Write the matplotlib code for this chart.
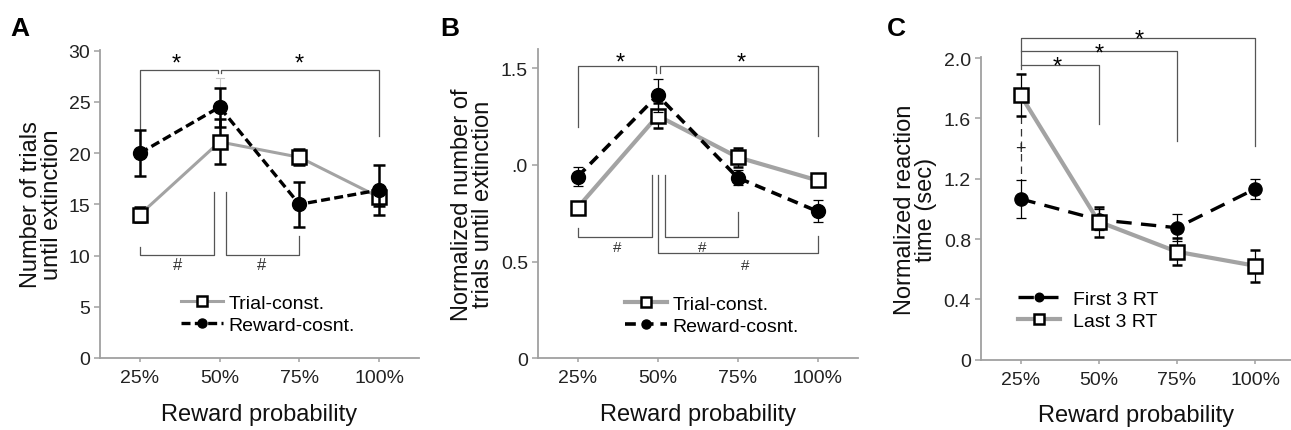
import numpy as np
import matplotlib
matplotlib.use('Agg')
import matplotlib.pyplot as plt

plt.rcParams['font.family'] = ['Liberation Sans', 'DejaVu Sans']

# ---- data ----
x_labels = ['25%', '50%', '75%', '100%']
x = np.arange(len(x_labels))

# A: number of trials until extinction
a_trial = [14.0, 21.1, 19.6, 15.7]
a_trial_err = [0.7, 2.2, 0.8, 0.9]
a_reward = [20.0, 24.5, 15.0, 16.4]
a_reward_err = [2.25, 1.9, 2.2, 2.4]

# B: normalized number of trials until extinction
b_trial = [0.78, 1.255, 1.04, 0.92]
b_trial_err = [0.015, 0.065, 0.05, 0.02]
b_reward = [0.94, 1.36, 0.934, 0.76]
b_reward_err = [0.05, 0.085, 0.04, 0.057]

# C: normalized reaction time
c_first = [1.066, 0.928, 0.875, 1.132]
c_first_err = [0.125, 0.07, 0.09, 0.064]
c_last = [1.755, 0.915, 0.716, 0.623]
c_last_err = [0.14, 0.1, 0.09, 0.105]

GRAY = '#a3a3a3'
AX_GRAY = '#a0a0a0'
BR = '#555555'

fig = plt.figure(figsize=(12.91, 4.31), dpi=100)


def style_axes(ax, xlim, ylim, yticks, yticklabels, ylabel, lpad):
    ax.set_xlim(*xlim)
    ax.set_ylim(*ylim)
    ax.set_xticks(x)
    ax.set_xticklabels(x_labels, fontsize=14)
    ax.set_yticks(yticks)
    ax.set_yticklabels(yticklabels, fontsize=14)
    for s in ['top', 'right']:
        ax.spines[s].set_visible(False)
    for s in ['left', 'bottom']:
        ax.spines[s].set_color(AX_GRAY)
        ax.spines[s].set_linewidth(1.3)
    ax.tick_params(axis='y', colors=AX_GRAY, labelcolor='#222222', length=4, width=1.1, pad=3)
    ax.tick_params(axis='x', colors=AX_GRAY, labelcolor='#222222', length=3, width=1.1, pad=5)
    ax.set_xlabel('Reward probability', fontsize=17, labelpad=12, color='#111111')
    ax.set_ylabel(ylabel, fontsize=17, labelpad=lpad, color='#111111', linespacing=0.95)


def bracket(ax, pts, lw=0.9):
    xs, ys = zip(*pts)
    ax.plot(xs, ys, color=BR, lw=lw, clip_on=False, zorder=1)


def legend(ax, handles, anchor, textpad=0.3):
    ax.legend([h.lines[0] for h in handles], [h.get_label() for h in handles],
              loc='upper left', bbox_to_anchor=anchor,
              frameon=False, fontsize=14, handlelength=2.15, handletextpad=textpad,
              labelspacing=0.2, markerscale=0.65, borderaxespad=0)


#%% A
ax = fig.add_axes([100 / 1291, 72 / 431, 319 / 1291, 308.3 / 431])
h1 = ax.errorbar(x, a_trial, yerr=a_trial_err, color=GRAY, lw=2.2, marker='s', ms=10.5,
                 mfc='white', mec='black', mew=1.8, ecolor='black', elinewidth=1.8,
                 capsize=4, capthick=1.8, label='Trial-const.', zorder=3)
h2 = ax.errorbar(x, a_reward, yerr=a_reward_err, color='black', lw=2.4, dashes=(2.7, 1.3),
                 marker='o', ms=10, ecolor='black', elinewidth=1.8, capsize=4, capthick=1.8,
                 label='Reward-cosnt.', zorder=4)
ax.plot([1.0, 1.0], [24.5, 27.3], color='#cccccc', lw=0.8, zorder=2)
ax.plot([0.95, 1.05], [27.3, 27.3], color='#cccccc', lw=0.8, zorder=2)
bracket(ax, [(0, 21.9), (0, 28.1), (0.985, 28.1), (0.985, 27.8)])
bracket(ax, [(1.015, 27.8), (1.015, 28.1), (3.0, 28.1), (3.0, 21.7)])
ax.text(0.46, 27.7, '*', fontsize=17, ha='center', va='bottom')
ax.text(2.0, 27.7, '*', fontsize=17, ha='center', va='bottom')
bracket(ax, [(0, 10.8), (0, 10.1), (0.925, 10.1), (0.925, 16.25)])
bracket(ax, [(1.08, 16.25), (1.08, 10.1), (2.0, 10.1), (2.0, 11.9)])
ax.text(0.47, 9.9, '#', fontsize=12, ha='center', va='top', color='#333333')
ax.text(1.53, 9.9, '#', fontsize=12, ha='center', va='top', color='#333333')
style_axes(ax, (-0.5, 3.5), (0, 30.1), [0, 5, 10, 15, 20, 25, 30],
           ['0', '5', '10', '15', '20', '25', '30'],
           'Number of trials\nuntil extinction', 4)
legend(ax, [h1, h2], (0.23, 0.231))

#%% B
ax = fig.add_axes([537.7 / 1291, 71.7 / 431, 320 / 1291, 309.3 / 431])
h1 = ax.errorbar(x, b_trial, yerr=b_trial_err, color=GRAY, lw=3, marker='s', ms=10,
                 mfc='white', mec='black', mew=1.8, ecolor='black', elinewidth=0.9,
                 capsize=3.5, capthick=0.9, label='Trial-const.', zorder=3)
h2 = ax.errorbar(x, b_reward, yerr=b_reward_err, color='black', lw=2.6, dashes=(3.0, 1.9),
                 marker='o', ms=10, ecolor='black', elinewidth=0.9, capsize=3.5, capthick=0.9,
                 label='Reward-cosnt.', zorder=4)
bracket(ax, [(0, 1.198), (0, 1.51), (0.983, 1.51), (0.983, 1.478)])
bracket(ax, [(1.025, 1.478), (1.025, 1.51), (3.0, 1.51), (3.0, 1.148)])
ax.text(0.53, 1.475, '*', fontsize=17, ha='center', va='bottom')
ax.text(2.05, 1.475, '*', fontsize=17, ha='center', va='bottom')
bracket(ax, [(0, 0.672), (0, 0.626), (0.93, 0.626), (0.93, 0.95)])
bracket(ax, [(1.087, 0.95), (1.087, 0.626), (2.0, 0.626), (2.0, 0.755)])
bracket(ax, [(1.0, 0.95), (1.0, 0.545), (3.0, 0.545), (3.0, 0.631)])
ax.text(0.49, 0.612, '#', fontsize=11, ha='center', va='top', color='#333333')
ax.text(1.56, 0.612, '#', fontsize=11, ha='center', va='top', color='#333333')
ax.text(2.095, 0.52, '#', fontsize=11, ha='center', va='top', color='#333333')
style_axes(ax, (-0.5, 3.5), (0, 1.6), [0, 0.5, 1.0, 1.5], ['0', '0.5', '.0', '1.5'],
           'Normalized number of\ntrials until extinction', 5)
legend(ax, [h1, h2], (0.248, 0.228))

#%% C
ax = fig.add_axes([980.7 / 1291, 70.3 / 431, 310.3 / 1291, 302.4 / 431])
h1 = ax.errorbar(x, c_first, yerr=c_first_err, color='black', lw=2.4, dashes=(4.6, 2.8),
                 marker='o', ms=9.5, ecolor='black', elinewidth=0.9, capsize=3.5, capthick=0.9,
                 label='First 3 RT', zorder=3)
h2 = ax.errorbar(x, c_last, yerr=c_last_err, color=GRAY, lw=3, marker='s', ms=10,
                 mfc='white', mec='black', mew=1.8, ecolor='black', elinewidth=0.9,
                 capsize=3.5, capthick=0.9, label='Last 3 RT', zorder=4)
ax.plot([0, 0], [1.614, 1.194], color='#333333', lw=0.9, dashes=(6, 4), zorder=2)
ax.text(0, 1.40, '+', fontsize=13, ha='center', va='center', color='#222222')
bracket(ax, [(0, 1.93), (0, 2.13), (3.0, 2.13), (3.0, 1.415)])
bracket(ax, [(0, 2.05), (2.0, 2.05), (2.0, 1.452)])
bracket(ax, [(0, 1.956), (1.0, 1.956), (1.0, 1.563)])
ax.text(0.47, 1.87, '*', fontsize=17, ha='center', va='bottom')
ax.text(1.01, 1.96, '*', fontsize=17, ha='center', va='bottom')
ax.text(1.52, 2.05, '*', fontsize=17, ha='center', va='bottom')
style_axes(ax, (-0.51, 3.46), (0, 2.005), [0, 0.4, 0.8, 1.2, 1.6, 2.0],
           ['0', '0.4', '0.8', '1.2', '1.6', '2.0'],
           'Normalized reaction\ntime (sec)', 5)
legend(ax, [h1, h2], (0.095, 0.254), textpad=0.67)

fig.text(10 / 1291, 1 - 29 / 431, 'A', fontsize=19, weight='bold', va='center')
fig.text(440 / 1291, 1 - 29 / 431, 'B', fontsize=19, weight='bold', va='center')
fig.text(887 / 1291, 1 - 29 / 431, 'C', fontsize=19, weight='bold', va='center')

fig.savefig('out.png', dpi=100)
